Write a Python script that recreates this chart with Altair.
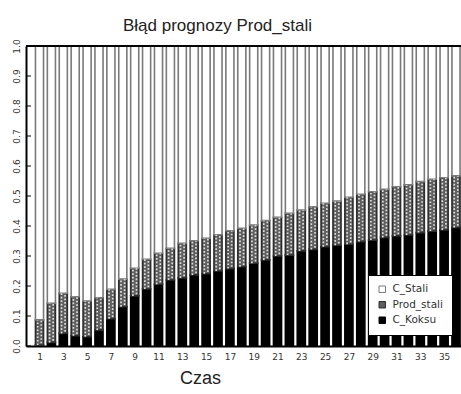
import altair as alt
import pandas as pd

# Forecast-error decomposition of Prod_stali over 36 periods
periods = list(range(1, 37))
c_koksu = [0.003, 0.012, 0.042, 0.034, 0.031, 0.053, 0.091, 0.131, 0.167, 0.190,
           0.206, 0.220, 0.227, 0.237, 0.241, 0.250, 0.258, 0.264, 0.276, 0.287,
           0.300, 0.303, 0.317, 0.322, 0.331, 0.336, 0.339, 0.348, 0.353, 0.362,
           0.367, 0.370, 0.378, 0.383, 0.387, 0.395]
prod_stali = [0.084, 0.130, 0.134, 0.130, 0.119, 0.108, 0.098, 0.092, 0.092, 0.099,
              0.103, 0.106, 0.115, 0.114, 0.118, 0.121, 0.126, 0.128, 0.127, 0.131,
              0.129, 0.139, 0.136, 0.142, 0.145, 0.147, 0.157, 0.158, 0.161, 0.160,
              0.164, 0.167, 0.170, 0.173, 0.174, 0.172]
c_stali = [0.913, 0.858, 0.824, 0.836, 0.850, 0.839, 0.811, 0.777, 0.741, 0.711,
           0.691, 0.674, 0.658, 0.649, 0.641, 0.629, 0.616, 0.608, 0.597, 0.582,
           0.571, 0.558, 0.547, 0.536, 0.524, 0.517, 0.504, 0.494, 0.486, 0.478,
           0.469, 0.463, 0.452, 0.444, 0.439, 0.433]

series = ["C_Stali", "Prod_stali", "C_Koksu"]
x_ticks = [1, 3, 5, 7, 9, 11, 13, 15, 17, 19, 21, 23, 25, 27, 29, 31, 33, 35]
y_ticks = [0.0, 0.1, 0.2, 0.3, 0.4, 0.5, 0.6, 0.7, 0.8, 0.9, 1.0]

# stacked segments, bottom to top: C_Koksu, Prod_stali, C_Stali
rows = []
for i, t in enumerate(periods):
    base = 0.0
    for name, vals in (("C_Koksu", c_koksu), ("Prod_stali", prod_stali), ("C_Stali", c_stali)):
        rows.append({"t": t, "series": name, "y0": base, "y1": base + vals[i]})
        base += vals[i]
df = pd.DataFrame(rows)
mid = df[df["series"] == "Prod_stali"]
ticks_df = pd.DataFrame({"v": y_ticks})

HALF = 0.34
FONT = "DejaVu Sans"

x_scale = alt.Scale(domain=[-0.134, 36.42], nice=False, zero=False)
y_scale = alt.Scale(domain=[0, 1], nice=False, zero=True)
x_axis = alt.Axis(values=x_ticks, format="d", title="Czas")
y_axis = alt.Axis(values=y_ticks, format=".1f", title=None)

bars = alt.Chart(df).transform_calculate(
    lo=f"datum.t - {HALF}", hi=f"datum.t + {HALF}"
).mark_bar(strokeWidth=1.6).encode(
    x=alt.X("lo:Q", scale=x_scale, axis=x_axis),
    x2="hi:Q",
    y=alt.Y("y0:Q", scale=y_scale, axis=y_axis),
    y2="y1:Q",
    color=alt.Color("series:N",
                    scale=alt.Scale(domain=series, range=["#ffffff", "#5e5e5e", "#000000"]),
                    legend=alt.Legend(title=None, orient="none", legendX=342, legendY=229,
                                      direction="vertical", fillColor="white",
                                      strokeColor="black", padding=9, rowPadding=4.5,
                                      symbolType="square", symbolSize=42,
                                      symbolStrokeColor="#333", symbolStrokeWidth=1,
                                      labelFont=FONT, labelFontSize=10.5,
                                      labelColor="#333", labelOffset=5)),
    stroke=alt.Stroke("series:N",
                      scale=alt.Scale(domain=series, range=["#7a7a7a", "#2e2e2e", "#000000"]),
                      legend=None),
)

# dotted texture on the Prod_stali segments
def dots(offset, dash_offset):
    return alt.Chart(mid).mark_rule(color="#dedede", strokeWidth=1.7,
                                    strokeDash=[1.7, 1.8], strokeDashOffset=dash_offset,
                                    xOffset=offset).encode(
        x=alt.X("t:Q", scale=x_scale, axis=x_axis),
        y=alt.Y("y0:Q", scale=y_scale, axis=y_axis),
        y2="y1:Q",
    )

# inward tick marks on the left frame
yticks = alt.Chart(ticks_df).mark_rule(color="black", strokeWidth=1).encode(
    y=alt.Y("v:Q", scale=y_scale, axis=y_axis),
    x=alt.value(0),
    x2=alt.value(5),
)

# top edge of the frame
top_edge = alt.Chart(ticks_df).mark_rule(color="black", strokeWidth=2).encode(
    y=alt.value(0),
    x=alt.value(0),
    x2=alt.value(435),
)

chart = alt.layer(bars, dots(-1.8, 0), dots(1.8, 1.75), yticks, top_edge).properties(
    width=435,
    height=300,
    padding={"left": 26, "top": 46, "right": 0, "bottom": 48},
    autosize=alt.AutoSizeParams(type="none"),
    title=alt.TitleParams(text="Błąd prognozy Prod_stali", font="Liberation Sans",
                          fontSize=17, fontWeight="normal", color="#222",
                          anchor="middle", frame="group", dx=-26, dy=19, offset=10,
                          baseline="alphabetic"),
).configure_view(
    stroke=None
).configure_axis(
    ticks=False, grid=False, domainColor="black", domainWidth=2,
    labelFont=FONT, labelFontSize=9, labelColor="#333",
    labelFlush=False, labelOverlap=False,
).configure_axisX(
    labelPadding=6,
    titleFont="Liberation Sans", titleFontSize=18, titleFontWeight="normal",
    titleColor="#222", titleX=174, titleY=37, titleAlign="center",
    titleBaseline="alphabetic",
).configure_axisY(
    labelAngle=270, labelAlign="center", labelBaseline="middle", labelPadding=10,
)

chart.save("out.html", embed_options={"renderer": "svg", "actions": False})
